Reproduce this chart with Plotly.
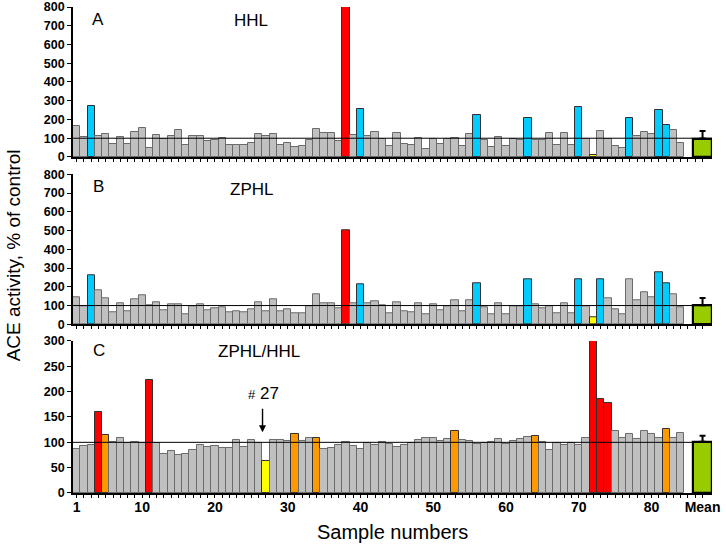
import plotly.graph_objects as go

# ---------------- data ----------------
samples = list(range(1, 85))

hhl = [163, 105, 274, 114, 121, 68, 105, 71, 132, 155,
       46, 117, 96, 114, 142, 62, 114, 114, 84, 89,
       100, 66, 66, 66, 75, 121, 114, 124, 66, 75,
       53, 60, 89, 151, 128, 128, 87, 800, 119, 254,
       114, 132, 96, 60, 128, 71, 66, 103, 44, 96,
       69, 94, 103, 60, 124, 224, 89, 52, 107, 57,
       94, 89, 210, 89, 89, 128, 66, 128, 66, 268,
       96, 12, 140, 96, 60, 50, 206, 114, 135, 124,
       252, 172, 146, 75]

zphl = [144, 96, 261, 180, 137, 62, 114, 68, 132, 153,
        100, 116, 75, 108, 108, 52, 98, 108, 75, 84,
        91, 66, 71, 62, 78, 116, 69, 132, 69, 78,
        60, 60, 98, 162, 110, 114, 84, 500, 114, 212,
        110, 121, 103, 57, 119, 68, 66, 112, 53, 108,
        76, 98, 128, 68, 128, 220, 92, 52, 114, 53,
        98, 98, 238, 105, 84, 98, 57, 114, 57, 238,
        98, 36, 242, 137, 78, 53, 238, 126, 169, 142,
        277, 220, 158, 89]

ratio = [86, 93, 94, 159, 114, 100, 108, 98, 101, 99,
         224, 98, 78, 82, 76, 78, 84, 94, 90, 93,
         88, 88, 105, 91, 105, 99, 64, 105, 105, 103,
         117, 103, 108, 109, 86, 88, 94, 101, 93, 86,
         99, 94, 101, 96, 91, 94, 99, 105, 109, 108,
         102, 107, 123, 105, 103, 96, 99, 101, 107, 96,
         103, 107, 111, 113, 101, 85, 99, 94, 98, 94,
         108, 300, 186, 178, 123, 109, 116, 107, 122, 116,
         109, 126, 109, 118]

hhl_blue = [3, 40, 56, 63, 70, 77, 81, 82]
hhl_red = [38]
hhl_yellow = [72]
zphl_blue = [3, 40, 56, 63, 70, 73, 81, 82]
zphl_red = [38]
zphl_yellow = [72]
ratio_red = [4, 11, 72, 73, 74]
ratio_orange = [5, 31, 34, 53, 64, 82]
ratio_yellow = [27]

mean_values = [98, 101, 101]      # HHL, ZPHL, ZPHL/HHL
mean_errors = [40, 39, 12]
mean_slot = 87

x_label_samples = [1, 10, 20, 30, 40, 50, 60, 70, 80]

# ---------------- styles ----------------
GRAY = "#C0C0C0"
BLUE = "#00CCFF"
RED = "#FF0000"
ORANGE = "#FF9900"
YELLOW = "#FFFF00"
GREEN = "#99CC00"
FONT = "Liberation Sans, Arial, sans-serif"


def colors_for(special):
    fills, lines = [], []
    for s in samples:
        c = GRAY
        for color, lst in special:
            if s in lst:
                c = color
        fills.append(c)
        lines.append("#6a6a6a" if c == GRAY else "#303030")
    return fills, lines


panels = [
    (hhl, [(BLUE, hhl_blue), (RED, hhl_red), (YELLOW, hhl_yellow)], "x3", "y3", 0),
    (zphl, [(BLUE, zphl_blue), (RED, zphl_red), (YELLOW, zphl_yellow)], "x2", "y2", 1),
    (ratio, [(RED, ratio_red), (ORANGE, ratio_orange), (YELLOW, ratio_yellow)], "x", "y", 2),
]

fig = go.Figure()
for vals, special, xa, ya, mi in panels:
    fills, lines = colors_for(special)
    fig.add_trace(go.Bar(
        x=samples, y=vals, width=1, xaxis=xa, yaxis=ya,
        marker=dict(color=fills, line=dict(color=lines, width=1)),
        showlegend=False, hoverinfo="x+y"))
    fig.add_trace(go.Bar(
        x=[mean_slot], y=[mean_values[mi]], width=2.55, xaxis=xa, yaxis=ya,
        marker=dict(color=GREEN, line=dict(color="black", width=2.2)),
        error_y=dict(type="data", array=[mean_errors[mi]], arrayminus=[0],
                     symmetric=False, color="black", thickness=2, width=3),
        showlegend=False))

XR = [0.5, 88.3]
tickvals = list(range(1, 88))
ticktext = [str(v) if v in x_label_samples else ("Mean" if v == mean_slot else "") for v in tickvals]

xcommon = dict(range=XR, tickmode="array", tickvals=tickvals, ticktext=ticktext,
               ticks="outside", ticklen=3, tickwidth=1.2, tickcolor="black",
               showline=True, linecolor="black", linewidth=1.6,
               showgrid=False, zeroline=False, mirror=False, automargin=False)
ycommon = dict(ticks="outside", ticklen=4, tickwidth=1.4, tickcolor="black",
               showline=True, linecolor="black", linewidth=1.6,
               showgrid=False, zeroline=False, automargin=False,
               tickfont=dict(family=FONT, size=12.5, color="black", weight="bold"))

fig.update_layout(
    width=726, height=551,
    margin=dict(l=73, r=14, t=7, b=58, autoexpand=False),
    paper_bgcolor="white", plot_bgcolor="white",
    bargap=0,
    barmode="overlay",
    xaxis=dict(**xcommon, anchor="y", ticklabelstandoff=-3,
               tickfont=dict(family=FONT, size=14, color="black", weight="bold")),
    xaxis2=dict(**xcommon, anchor="y2", matches="x", showticklabels=False),
    xaxis3=dict(**xcommon, anchor="y3", matches="x", showticklabels=False),
    yaxis=dict(**ycommon, anchor="x", domain=[0, 0.3128], range=[0, 300], dtick=50),
    yaxis2=dict(**ycommon, anchor="x2", domain=[0.3471, 0.6558], range=[0, 800], dtick=100),
    yaxis3=dict(**ycommon, anchor="x3", domain=[0.6914, 1.0], range=[0, 800], dtick=100),
)

# reference lines at 100 %
for xa, ya in [("x", "y"), ("x2", "y2"), ("x3", "y3")]:
    fig.add_shape(type="line", xref=xa, yref=ya, x0=XR[0], x1=XR[1], y0=100, y1=100,
                  line=dict(color="black", width=1), layer="above")

lab = dict(family=FONT, size=17, color="black")
texts = [
    ("A", 0.0391, 0.9747), ("HHL", 0.2786, 0.9716),
    ("B", 0.0399, 0.6311), ("ZPHL", 0.2786, 0.6249),
    ("C", 0.0407, 0.2936), ("ZPHL/HHL", 0.2911, 0.2916),
]
for t, x, y in texts:
    fig.add_annotation(text=t, x=x, y=y, xref="paper", yref="paper",
                       showarrow=False, font=lab, xanchor="center", yanchor="middle")

fig.add_annotation(text="<span style='font-size:13px'>#</span> 27", x=0.2981, y=0.2051,
                   xref="paper", yref="paper", showarrow=False, font=lab,
                   xanchor="center", yanchor="middle")
fig.add_annotation(text="", x=0.2966, y=0.1249, xref="paper", yref="paper",
                   showarrow=True, ax=0, ay=-25, arrowhead=2, arrowsize=1,
                   arrowwidth=1.4, arrowcolor="black")

fig.add_annotation(text="ACE activity, % of control", x=-0.0939, y=0.489,
                   xref="paper", yref="paper", showarrow=False, textangle=-90,
                   font=dict(family=FONT, size=19, color="black"),
                   xanchor="center", yanchor="middle")
fig.add_annotation(text="Sample numbers", x=0.5003, y=-0.0809,
                   xref="paper", yref="paper", showarrow=False,
                   font=dict(family=FONT, size=20, color="black"),
                   xanchor="center", yanchor="middle")

fig.write_html("out.html", config={"displayModeBar": False},
               post_script="document.body.style.margin='0';document.body.style.overflow='hidden';")
